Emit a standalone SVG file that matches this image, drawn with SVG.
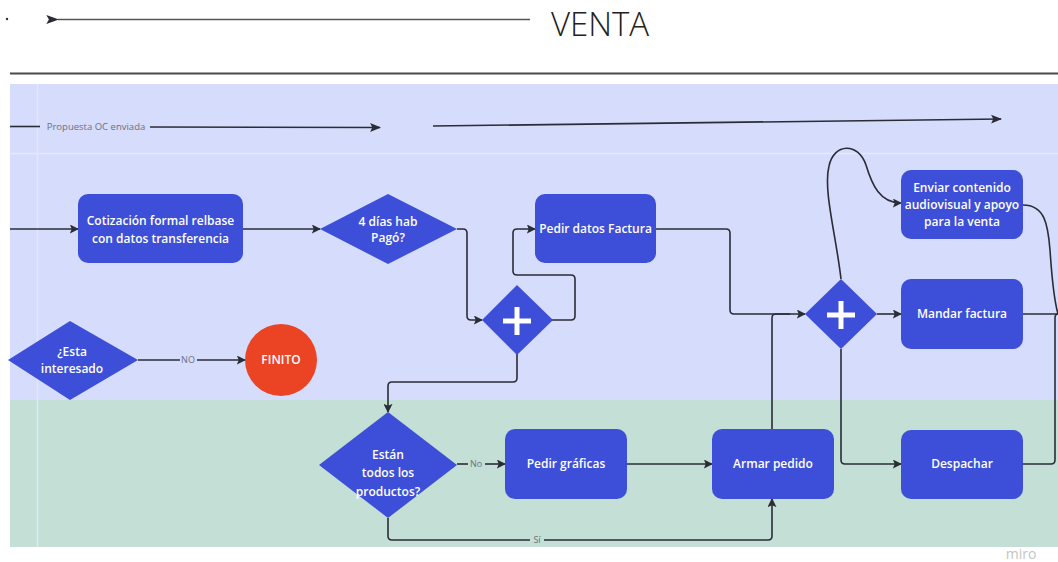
<svg xmlns="http://www.w3.org/2000/svg" width="1058" height="562" viewBox="0 0 1058 562">
<defs>
<marker id="ah" viewBox="0 0 10 10" refX="9" refY="5" markerWidth="9" markerHeight="9" markerUnits="userSpaceOnUse" orient="auto">
<path d="M0,0 L10,5 L0,10 L2,5 Z" fill="#2a2d36"/>
</marker>
<marker id="ahs" viewBox="0 0 10 10" refX="9" refY="5" markerWidth="11" markerHeight="11" markerUnits="userSpaceOnUse" orient="auto">
<path d="M0,1 L10,5 L0,9 L2,5 Z" fill="#2a2d36"/>
</marker>
<marker id="ahl" viewBox="0 0 10 10" refX="1" refY="5" markerWidth="13" markerHeight="13" markerUnits="userSpaceOnUse" orient="auto">
<path d="M10,1.5 L0,5 L10,8.5 L8,5 Z" fill="#2a2d36"/>
</marker>
</defs>
<style>
.box{fill:#3d4fd8;}
.dia{fill:#3d4fd8;}
.t{font-family:"Open Sans","Noto Sans",sans-serif;font-size:12px;font-weight:600;fill:#ffffff;text-anchor:middle;}
.c{fill:none;stroke:#2a2d36;stroke-width:1.6;}
.lbl{font-family:"Open Sans","Noto Sans",sans-serif;font-size:9px;fill:#6b7080;text-anchor:middle;}
.plus{stroke:#ffffff;stroke-width:5;}
</style>
<rect x="0" y="0" width="1058" height="562" fill="#ffffff"/>
<g id="header">
<circle cx="7" cy="19" r="1.2" fill="#333"/>
<line x1="530" y1="19.5" x2="58" y2="19.5" stroke="#555" stroke-width="1.5" marker-end="url(#ahl)"/>
<text x="600" y="36" font-family="Open Sans, Noto Sans, sans-serif" font-size="33" font-weight="300" fill="#222" text-anchor="middle">VENTA</text>
<line x1="10" y1="73.5" x2="1058" y2="73.5" stroke="#4a4a4a" stroke-width="2"/>
</g>
<g id="lanes">
<rect x="10" y="84" width="1048" height="316" fill="#d6dcfb"/>
<rect x="10" y="400" width="1048" height="147" fill="#c3dfd6"/>
<line x1="10" y1="153.5" x2="1058" y2="153.5" stroke="#e6e9fd" stroke-width="1.5"/>
<line x1="37.5" y1="84" x2="37.5" y2="547" stroke="#e3e7fb" stroke-width="1.5"/>
</g>
<g id="connectors">
<path class="c" d="M10,126.5 L40,126.5"/>
<text class="lbl" x="96" y="129.5" style="font-size:9.5px">Propuesta OC enviada</text>
<path class="c" d="M150,127 L380,127.5" marker-end="url(#ahs)"/>
<path class="c" d="M433,126 L1001,119" marker-end="url(#ahs)"/>
<path class="c" d="M10,229 L78,229" marker-end="url(#ah)"/>
<path class="c" d="M243,229 L320,229" marker-end="url(#ah)"/>
<path class="c" d="M457,229 L463,229 Q467,229 467,233 L467,316 Q467,320 471,320 L482,320" marker-end="url(#ah)"/>
<path class="c" d="M552,320 L571,320 Q575,320 575,316 L575,279 Q575,275 571,275 L517,275 Q513,275 513,271 L513,233 Q513,229 517,229 L535,229" marker-end="url(#ah)"/>
<path class="c" d="M656,229 L726,229 Q730,229 730,233 L730,310 Q730,314 734,314 L805,314" marker-end="url(#ah)"/>
<path class="c" d="M772,429 L772,318 Q772,314 776,314 L790,314"/>
<path class="c" d="M877,314 L901,314" marker-end="url(#ah)"/>
<path class="c" d="M841,279 C836,235 823,190 829,166 C834,143 858,142 866,165 C872,185 880,203 901,203" marker-end="url(#ah)"/>
<path class="c" d="M841,349 L841,460 Q841,464 845,464 L901,464" marker-end="url(#ah)"/>
<path class="c" d="M1023,205 C1045,205 1048,225 1050,250 C1052,280 1054,300 1058,314"/>
<path class="c" d="M1023,314 L1058,314"/>
<path class="c" d="M1023,464 L1051,464 Q1055,464 1055,460 L1055,318 Q1055,314 1058,314"/>
<path class="c" d="M517,353 L517,378 Q517,382 513,382 L392,382 Q388,382 388,386 L388,412" marker-end="url(#ah)"/>
<path class="c" d="M457,464 L468,464"/>
<text class="lbl" x="476" y="467">No</text>
<path class="c" d="M485,464 L505,464" marker-end="url(#ah)"/>
<path class="c" d="M627,464 L712,464" marker-end="url(#ah)"/>
<path class="c" d="M388,518 L388,536 Q388,540 392,540 L530,540"/>
<text class="lbl" x="537" y="543">Sí</text>
<path class="c" d="M544,540 L768,540 Q772,540 772,536 L772,499" marker-end="url(#ah)"/>
<path class="c" d="M138,360 L180,360"/>
<text class="lbl" x="188" y="363">NO</text>
<path class="c" d="M197,360 L245,360" marker-end="url(#ah)"/>
</g>
<g id="cotizacion">
<rect class="box" x="78" y="194" width="165" height="69" rx="10"/>
<text class="t" x="160.5" y="225">Cotización formal relbase</text>
<text class="t" x="160.5" y="243">con datos transferencia</text>
</g>
<g id="pago">
<polygon class="dia" points="320,229 388,194 457,229 388,264"/>
<text class="t" x="388" y="226">4 días hab</text>
<text class="t" x="388" y="242">Pagó?</text>
</g>
<g id="gateway1">
<polygon class="dia" points="482,320 517,285 553,320 517,355"/>
<line class="plus" x1="503" y1="321" x2="531" y2="321"/>
<line class="plus" x1="517" y1="307" x2="517" y2="335"/>
</g>
<g id="pedir-datos">
<rect class="box" x="535" y="194" width="121" height="69" rx="10"/>
<text class="t" x="595.5" y="233">Pedir datos Factura</text>
</g>
<g id="gateway2">
<polygon class="dia" points="805,314 841,279 877,314 841,349"/>
<line class="plus" x1="827" y1="315" x2="855" y2="315"/>
<line class="plus" x1="841" y1="301" x2="841" y2="329"/>
</g>
<g id="enviar">
<rect class="box" x="901" y="170" width="122" height="69" rx="10"/>
<text class="t" x="962" y="192">Enviar contenido</text>
<text class="t" x="962" y="209">audiovisual y apoyo</text>
<text class="t" x="962" y="226">para la venta</text>
</g>
<g id="mandar">
<rect class="box" x="901" y="279" width="122" height="70" rx="10"/>
<text class="t" x="962" y="318">Mandar factura</text>
</g>
<g id="interesado">
<polygon class="dia" points="8,360 70,321 138,360 70,400"/>
<text class="t" x="72" y="356">¿Esta</text>
<text class="t" x="72" y="373">interesado</text>
</g>
<g id="finito">
<circle cx="281" cy="360" r="36" fill="#ea4424"/>
<text class="t" x="281" y="364">FINITO</text>
</g>
<g id="productos">
<polygon class="dia" points="319,465 388,412 457,465 388,518"/>
<text class="t" x="388" y="459">Están</text>
<text class="t" x="388" y="477">todos los</text>
<text class="t" x="388" y="496">productos?</text>
</g>
<g id="graficas">
<rect class="box" x="505" y="429" width="122" height="70" rx="10"/>
<text class="t" x="566" y="468">Pedir gráficas</text>
</g>
<g id="armar">
<rect class="box" x="712" y="429" width="122" height="70" rx="10"/>
<text class="t" x="773" y="468">Armar pedido</text>
</g>
<g id="despachar">
<rect class="box" x="901" y="430" width="122" height="69" rx="10"/>
<text class="t" x="962" y="468">Despachar</text>
</g>
<text x="1021" y="559" font-family="Open Sans, Noto Sans, sans-serif" font-size="14" fill="#c4c4c4" text-anchor="middle">miro</text>
</svg>
